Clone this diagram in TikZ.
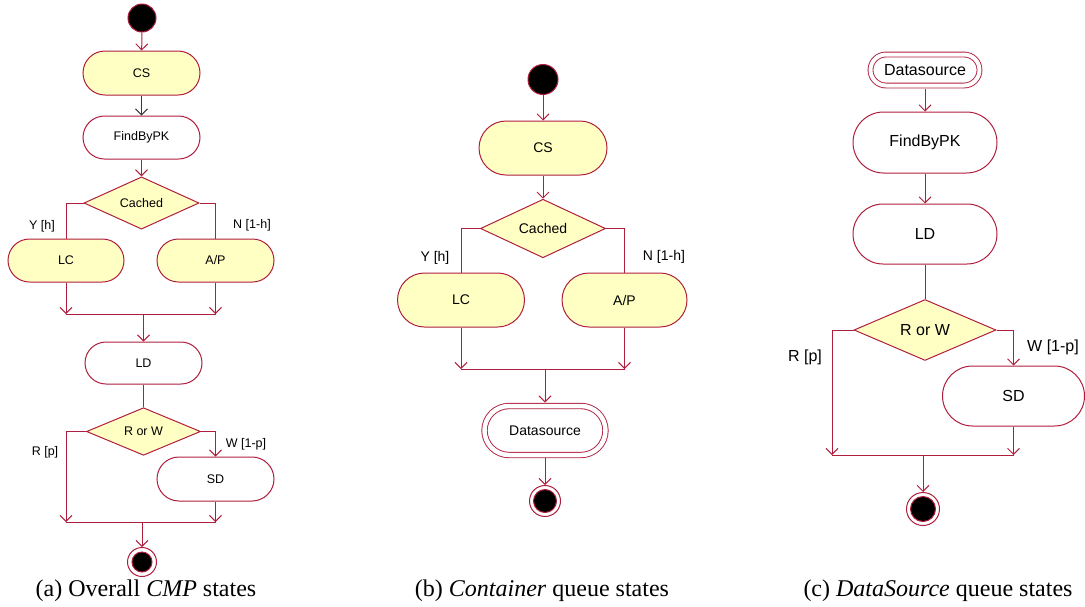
\documentclass[tikz,border=0pt]{standalone}
\usepackage{fontspec}
\setmainfont{Liberation Serif}
\newfontfamily\uisans{Liberation Sans}
\usetikzlibrary{arrows.meta,shapes.geometric,calc}
\definecolor{umlred}{RGB}{176,30,62}
\definecolor{umlfill}{RGB}{255,255,196}
\definecolor{umlgray}{RGB}{60,60,60}
\tikzset{
  every node/.style={font=\uisans},
  flow/.style={draw=umlred,line width=1pt},
  flowto/.style={flow,-{Straight Barb[length=6pt,width=12pt,line width=1pt]}},
  actbox/.style 2 args={draw=umlred,line width=1pt,rectangle,rounded corners=#2/2,
    minimum width=#1,minimum height=#2,inner sep=0pt},
  hot/.style={fill=umlfill},
  cold/.style={fill=white},
  choice/.style 2 args={draw=umlred,line width=1pt,diamond,fill=umlfill,inner sep=0pt,
    minimum width=#1,minimum height=#2},
  startdot/.style={draw=umlred,line width=1pt,fill=black,circle,inner sep=0pt,minimum size=#1},
  enddot/.style={draw=umlred,line width=1pt,fill=white,circle,inner sep=0pt,minimum size=#1},
  subact/.style 2 args={draw=umlred,line width=0.9pt,double=white,double distance=4.5pt,
    rectangle,rounded corners=#2/2,minimum width=#1,minimum height=#2,inner sep=0pt,fill=white},
  caption/.style={font=\fontsize{24}{28}\selectfont\rmfamily},
}
\begin{document}
\begin{tikzpicture}[x=1pt,y=-1pt]
\useasboundingbox (0,0) rectangle (1085,606);

% ---------------- (a) overall CMP flow ----------------
\begin{scope}[every node/.append style={font=\uisans\fontsize{12.5}{14}\selectfont}]
\node[startdot=28pt] (a0) at (142,18) {};
\node[actbox={117pt}{44pt},hot] (acs) at (141.5,73) {CS};
\node[actbox={117pt}{43pt},cold] (afind) at (141.5,137.5) {FindByPK};
\node[choice={115pt}{42pt}] (acached) at (141.5,203) {Cached};
\node[actbox={116pt}{43pt},hot] (alc) at (66,260.5) {LC};
\node[actbox={117pt}{43pt},hot] (aap) at (215.5,260.5) {A/P};
\coordinate (am1) at (143.5,314);
\node[actbox={117pt}{42pt},cold] (ald) at (143.5,363) {LD};
\node[choice={114pt}{43pt}] (arw) at (143.5,431.5) {R or W};
\node[actbox={117pt}{44pt},cold] (asd) at (215.5,479) {SD};
\coordinate (am2) at (142,522);
\node[enddot=29pt] (aend) at (142,562) {};
\node[startdot=20pt] (aendin) at (142,562) {};

\draw[flowto] (a0) -- (acs);
\draw[flow,draw=umlgray,-{Straight Barb[length=6pt,width=12pt,line width=1pt]}] (acs) -- (afind);
\draw[flowto] (afind) -- (acached);
\draw[flow] (acached.west) -| (alc.north);
\draw[flow] (acached.east) -| (aap.north);
\node at (42,226) {Y [h]};
\node at (252,225) {N [1-h]};
\draw[flowto] (alc.south) -- (alc.south |- am1);
\draw[flowto] (aap.south) -- (aap.south |- am1);
\draw[flow] (alc.south |- am1) -- (aap.south |- am1);
\draw[flowto] (am1) -- (ald.north);
\draw[flow] (ald) -- (arw);
\draw[flowto] (arw.west) -| ($(alc.south |- am2)$);
\draw[flowto] (arw.east) -| (asd.north);
\node at (45,452) {R [p]};
\node at (246,444) {W [1-p]};
\draw[flowto] (asd.south) -- (asd.south |- am2);
\draw[flow] (alc.south |- am2) -- (asd.south |- am2);
\draw[flowto] (am2) -- (aend.north);
\end{scope}
\node[caption] (capa) at (146,591) {(a) Overall \textit{CMP} states};

% ---------------- (b) container queue ----------------
\begin{scope}[every node/.append style={font=\uisans\fontsize{14}{16}\selectfont}]
\node[startdot=30pt] (b0) at (543,79.5) {};
\node[actbox={128pt}{54pt},hot] (bcs) at (543,148) {CS};
\node[choice={125pt}{53pt}] (bcached) at (543,228.5) {Cached};
\node[actbox={127pt}{54pt},hot] (blc) at (461,300) {LC};
\node[actbox={125pt}{54pt},hot] (bap) at (624.5,300) {A/P};
\coordinate (bm) at (545,369);
\node[subact={121pt}{49pt}] (bds) at (545,430.5) {Datasource};
\node[enddot=31pt] (bend) at (545,501) {};
\node[startdot=23pt] (bendin) at (545,501) {};

\draw[flowto] (b0) -- (bcs);
\draw[flowto] (bcs) -- (bcached);
\draw[flow] (bcached.west) -| (blc.north);
\draw[flow] (bcached.east) -| (bap.north);
\node at (435,258) {Y [h]};
\node at (664,257) {N [1-h]};
\draw[flowto] (blc.south) -- (blc.south |- bm);
\draw[flowto] (bap.south) -- (bap.south |- bm);
\draw[flow] (blc.south |- bm) -- (bap.south |- bm);
\draw[flowto] (bm) -- ($(bds.north)+(0,-3)$);
\draw[flowto] ($(bds.south)+(0,3)$) -- (bend.north);
\end{scope}
\node[caption] (capb) at (542,591) {(b) \textit{Container} queue states};

% ---------------- (c) datasource queue ----------------
\begin{scope}[every node/.append style={font=\uisans\fontsize{16}{18}\selectfont}]
\node[subact={109pt}{31pt},line width=0.9pt,double distance=4pt] (cds) at (925,70) {Datasource};
\node[actbox={144pt}{61pt},cold] (cfind) at (925,142.5) {FindByPK};
\node[actbox={144pt}{60pt},cold] (cld) at (925,234) {LD};
\node[choice={142pt}{60pt}] (crw) at (925,330) {R or W};
\node[actbox={142pt}{60pt},cold] (csd) at (1013.5,396) {SD};
\coordinate (cm) at (923,455);
\node[enddot=33pt] (cend) at (923,509) {};
\node[startdot=25pt] (cendin) at (923,509) {};

\draw[flowto] ($(cds.south)+(0,2.7)$) -- (cfind.north);
\draw[flowto] (cfind) -- (cld);
\draw[flow] (cld) -- (crw);
\coordinate (cleft) at (832,455);
\draw[flowto] (crw.west) -| (cleft);
\draw[flowto] (crw.east) -| (csd.north);
\node at (805,357) {R [p]};
\node at (1053,347) {W [1-p]};
\draw[flowto] (csd.south) -- (csd.south |- cm);
\draw[flow] (cleft) -- (csd.south |- cm);
\draw[flowto] (cm) -- (cend.north);
\end{scope}
\node[caption] (capc) at (938,591) {(c) \textit{DataSource} queue states};
\end{tikzpicture}
\end{document}
